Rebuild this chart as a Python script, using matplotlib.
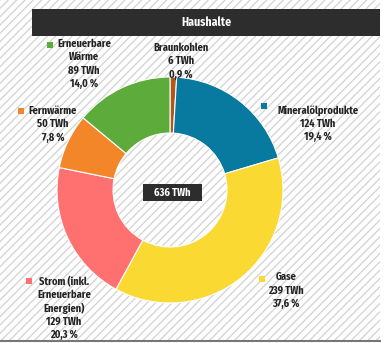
import matplotlib
matplotlib.use("Agg")
import matplotlib.pyplot as plt
from matplotlib.patches import Rectangle

# Data
categories = ["Braunkohlen", "Mineralölprodukte", "Gase", "Strom (inkl.\nErneuerbare\nEnergien)", "Fernwärme", "Erneuerbare\nWärme"]
values = [6, 124, 239, 129, 50, 89]
percent_labels = ["0,9 %", "19,4 %", "37,6 %", "20,3 %", "7,8 %", "14,0 %"]
colors = ["#b4561c", "#08799f", "#fbd933", "#ff7170", "#f4862a", "#5cab3b"]
title = "Haushalte"
total_label = "636 TWh"

plt.rcParams["hatch.linewidth"] = 0.9
FONT = dict(family=["Fira Sans Condensed", "Roboto Condensed", "Archivo Narrow", "DejaVu Sans"],
            fontweight="bold")

W, H = 390, 343
fig = plt.figure(figsize=(W / 100, H / 100), dpi=100)
ax = fig.add_axes([0, 0, 1, 1])

def Y(py):
    return H - py

# donut
ax.pie(values, colors=colors, startangle=90, counterclock=False,
       center=(170, Y(190)), radius=113, frame=True,
       wedgeprops=dict(width=56, edgecolor="white", linewidth=0.8, zorder=3))
ax.set_xlim(0, W)
ax.set_ylim(0, H)
ax.set_aspect("equal")
ax.axis("off")

# hatched background
ax.add_patch(Rectangle((0, Y(340)), 380, 340, facecolor="white", edgecolor="#d2d2d2",
                       hatch="////", linewidth=0, zorder=0))
ax.plot([0, 380], [Y(341), Y(341)], color="#777777", lw=1.5, zorder=1)

# title bar
ax.add_patch(Rectangle((32, Y(36)), 348, 27, facecolor="#2d2d2d", edgecolor="none", zorder=2))
ax.text(206, Y(22.5), title, color="white", ha="center", va="center", fontsize=8.5, zorder=3, **FONT)

# center box
ax.add_patch(Rectangle((143, Y(201)), 59, 17, facecolor="#2d2d2d", edgecolor="none", zorder=5))
ax.text(172.5, Y(192.5), total_label, color="white", ha="center", va="center", fontsize=7.5, zorder=6, **FONT)

# labels: (text x center, first-line y, marker x, marker y)
label_pos = [
    (181, 49, None, None),
    (318, 111, 264, 106),
    (286, 278, 262, 279),
    (64, 282, 29, 281),
    (53, 112, 21, 111),
    (84, 45, 50, 45),
]
for cat, v, p, c, (tx, ty, mx, my) in zip(categories, values, percent_labels, colors, label_pos):
    txt = f"{cat}\n{v} TWh\n{p}"
    ax.text(tx, Y(ty - 6), txt, ha="center", va="top", fontsize=7.5,
            color="#222222", linespacing=1.3, zorder=6, **FONT)
    if mx is not None:
        ax.add_patch(Rectangle((mx - 3, Y(my + 3)), 6, 6, facecolor=c, edgecolor="none", zorder=6))

fig.savefig("out.png", dpi=100)
